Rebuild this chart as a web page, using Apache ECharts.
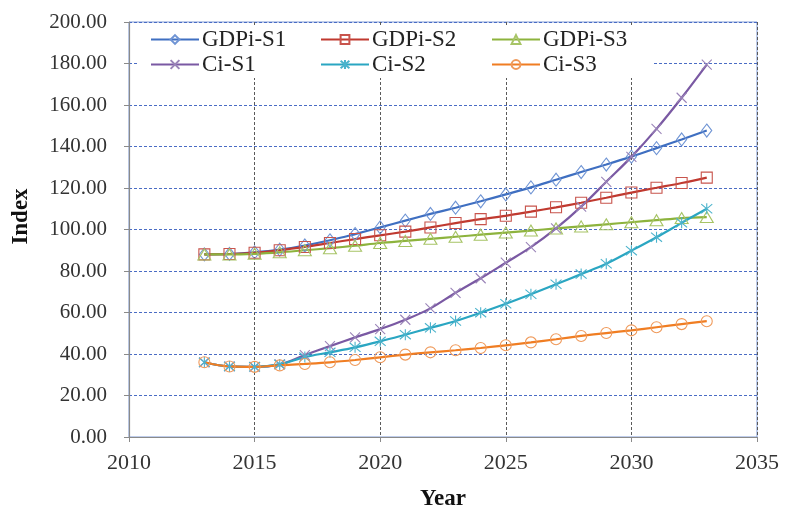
<!DOCTYPE html>
<html>
<head>
<meta charset="utf-8">
<script src="https://cdn.jsdelivr.net/npm/echarts@6/dist/echarts.min.js"></script>
<style>
  html, body { margin: 0; padding: 0; background: #fff; }
  #chart { width: 786px; height: 511px; }
</style>
</head>
<body>
<div id="chart"></div>
<script>
// Projection years
const years = [2013, 2014, 2015, 2016, 2017, 2018, 2019, 2020, 2021, 2022, 2023,
               2024, 2025, 2026, 2027, 2028, 2029, 2030, 2031, 2032, 2033];

// GDP index under three scenarios
const gdpiS1 = [88, 88.2, 89, 90.3, 92.3, 94.8, 97.8, 101, 104.3, 107.5, 110.5,
                113.6, 116.9, 120.3, 124, 127.7, 131.3, 135.1, 139.2, 143.4, 147.7];
const gdpiS2 = [88, 88.2, 88.8, 90, 91.6, 93.5, 95.4, 97.2, 99, 101, 103.1,
                105, 106.6, 108.6, 110.7, 112.9, 115.3, 117.8, 120.1, 122.4, 125];
const gdpiS3 = [88, 88, 88.3, 89, 90, 91, 92.2, 93.5, 94.5, 95.5, 96.5,
                97.5, 98.5, 99.5, 100.5, 101.5, 102.5, 103.5, 104.5, 105.5, 106];

// Consumption index under three scenarios
const ciS1 = [36, 34, 33.8, 35, 39.5, 43.8, 48, 52, 56.5, 62, 69.5,
              76.5, 84, 91.5, 100.5, 111, 123, 135, 148.5, 163.5, 179.5];
const ciS2 = [36, 34, 33.8, 35, 38.5, 40.8, 43.2, 46.1, 49.3, 52.6, 55.9,
              59.9, 64.2, 68.8, 73.6, 78.5, 83.5, 89.8, 96.3, 103.2, 110];
const ciS3 = [36, 34, 33.8, 34.5, 35.2, 36, 37.1, 38.4, 39.7, 40.8, 41.8,
              42.9, 44.2, 45.6, 47.1, 48.7, 50.1, 51.4, 52.9, 54.4, 55.8];

// Axis ticks
const xTicks = { min: 2010, max: 2035, step: 5 };
const yTicks = { min: 0, max: 200, step: 20 };

const SERIF = '"Liberation Serif", "DejaVu Serif", serif';

// Stroke-only marker paths
const crossPath = 'path://M0,0L10,10M10,0L0,10';
const starPath = 'path://M0,0L10,10M10,0L0,10M5,-1L5,11';

const seriesDefs = [
  { name: 'GDPi-S1', values: gdpiS1, color: '#3f6fc1', mark: '#6f94d4', symbol: 'diamond', size: [10, 13] },
  { name: 'GDPi-S2', values: gdpiS2, color: '#c0392f', mark: '#c8544c', symbol: 'rect', size: 11 },
  { name: 'GDPi-S3', values: gdpiS3, color: '#8db33d', mark: '#a7c466', symbol: 'triangle', size: [13, 11] },
  { name: 'Ci-S1', values: ciS1, color: '#7a59a3', mark: '#9a84b8', symbol: crossPath, size: 10 },
  { name: 'Ci-S2', values: ciS2, color: '#2aa6c2', mark: '#4bb3cc', symbol: starPath, size: 11 },
  { name: 'Ci-S3', values: ciS3, color: '#f07d22', mark: '#ef9a5b', symbol: 'circle', size: 11 }
];

const series = seriesDefs.map(d => ({
  name: d.name,
  type: 'line',
  smooth: 0.35,
  data: years.map((y, i) => [y, d.values[i]]),
  symbol: d.symbol,
  symbolSize: d.size,
  showAllSymbol: true,
  lineStyle: { color: d.color, width: 2.2 },
  itemStyle: { color: 'rgba(255,255,255,0)', borderColor: d.mark, borderWidth: 1.1 },
  emphasis: { disabled: true },
  z: 3
}));

// Legend laid out as a 3 x 2 table
const legendPos = [
  [150, 28], [320, 28], [491, 28],
  [150, 53], [320, 53], [491, 53]
];
const legends = seriesDefs.map((d, i) => ({
  data: [d.name],
  left: legendPos[i][0],
  top: legendPos[i][1],
  itemWidth: 48,
  itemHeight: 11,
  itemGap: 0,
  padding: 0,
  selectedMode: false,
  textStyle: { fontFamily: SERIF, fontSize: 23, color: '#222', padding: [0, 0, 0, -2] }
}));

const chart = echarts.init(document.getElementById('chart'), null, { renderer: 'canvas' });
chart.setOption({
  animation: false,
  backgroundColor: '#ffffff',
  grid: {
    left: 129, right: 29, top: 22, bottom: 74,
    outerBoundsMode: 'none',
    containLabel: false,
    show: true, borderColor: '#7f9ad6', borderWidth: 1, backgroundColor: 'transparent'
  },
  graphic: [{
    type: 'rect', left: 137, top: 26, shape: { width: 515, height: 52 },
    style: { fill: '#ffffff' }, z: 1, silent: true
  }],
  legend: legends,
  xAxis: {
    type: 'value',
    min: xTicks.min, max: xTicks.max, interval: xTicks.step,
    name: 'Year', nameLocation: 'middle', nameGap: 51,
    nameTextStyle: { fontFamily: SERIF, fontSize: 23, fontWeight: 'bold', color: '#111' },
    axisLine: { show: true, onZero: false, lineStyle: { color: '#8a8a8a', width: 1.2 } },
    axisTick: { show: true, length: 5, lineStyle: { color: '#8a8a8a' } },
    axisLabel: { fontFamily: SERIF, fontSize: 22, color: '#333', margin: 15, formatter: v => String(v) },
    splitLine: {
      show: true,
      lineStyle: { color: '#5a5a5a', type: [3, 2], width: 1 }
    }
  },
  yAxis: {
    type: 'value',
    min: yTicks.min, max: yTicks.max, interval: yTicks.step,
    name: 'Index', nameLocation: 'middle', nameGap: 96,
    nameTextStyle: { fontFamily: SERIF, fontSize: 23, fontWeight: 'bold', color: '#111', padding: [0, 0, 0, 26] },
    axisLine: { show: true, lineStyle: { color: '#8a8a8a', width: 1.2 } },
    axisTick: { show: true, length: 5, lineStyle: { color: '#8a8a8a' } },
    axisLabel: { fontFamily: SERIF, fontSize: 21, color: '#333', margin: 22, formatter: v => v.toFixed(2) },
    splitLine: {
      show: true,
      lineStyle: { color: '#4a6cc4', type: [3, 2], width: 1 }
    }
  },
  series: series
});
</script>
</body>
</html>
